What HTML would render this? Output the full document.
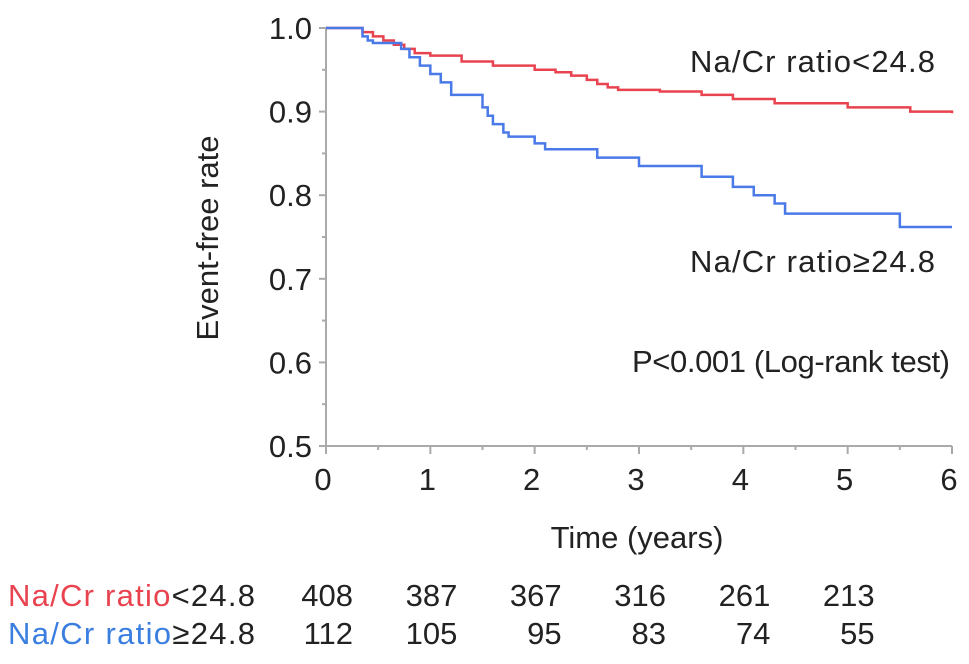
<!DOCTYPE html>
<html><head><meta charset="utf-8"><style>
body{margin:0;background:#fff;font-family:"Liberation Sans",sans-serif;}
svg text{font-family:"Liberation Sans",sans-serif;}
</style></head><body>
<svg id="chart" width="969" height="659" viewBox="0 0 969 659"></svg>
<script>
const xTicks=[0,1,2,3,4,5,6];
const yTicks=[0.5,0.6,0.7,0.8,0.9,1.0];
const redTimes=[0,0.35,0.45,0.55,0.65,0.75,0.85,1.0,1.3,1.6,2.0,2.2,2.35,2.5,2.6,2.7,2.8,3.2,3.6,3.9,4.3,5.0,5.6,6];
const redValues=[1,0.995,0.99,0.985,0.98,0.975,0.97,0.967,0.96,0.955,0.95,0.947,0.943,0.938,0.933,0.929,0.926,0.924,0.92,0.915,0.91,0.905,0.9,0.898];
const blueTimes=[0,0.35,0.4,0.45,0.72,0.8,0.9,1.0,1.1,1.2,1.5,1.55,1.6,1.7,1.75,2.0,2.1,2.6,3.0,3.6,3.9,4.1,4.3,4.4,5.5,6];
const blueValues=[1,0.99,0.985,0.982,0.975,0.965,0.955,0.945,0.935,0.92,0.905,0.895,0.885,0.875,0.87,0.862,0.855,0.845,0.835,0.822,0.81,0.8,0.79,0.778,0.762,0.762];
const riskTimes=[0,1,2,3,4,5];
const redRisk=[408,387,367,316,261,213];
const blueRisk=[112,105,95,83,74,55];
const X0=326,X1=952,Y0=446,Y1=28;
const FS=31;
const sx=t=>X0+(X1-X0)*t/6;
const sy=v=>Y0-(Y0-Y1)*(v-0.5)/0.5;
const svg=document.getElementById('chart');
const NS='http://www.w3.org/2000/svg';
function mk(tag,attrs,txt){const e=document.createElementNS(NS,tag);for(const k in attrs)e.setAttribute(k,attrs[k]);if(txt!==undefined)e.textContent=txt;svg.appendChild(e);return e;}
let e;
e=mk('line',{x1:X0,y1:Y1,x2:X0,y2:Y0,stroke:'#aaa','stroke-width':2});


e=mk('line',{x1:X0,y1:Y0,x2:X1,y2:Y0,stroke:'#aaa','stroke-width':2});


for(let i=0;i<=10;i++){const v=0.5+i*0.05;const maj=i%2===0;
e=mk('line',{x1:X0-(maj?7:4),y1:sy(v),x2:X0,y2:sy(v),stroke:'#aaa','stroke-width':2});

}
yTicks.forEach(v=>{e=mk('text',{x:X0-14,y:sy(v)+11,'text-anchor':'end','font-size':FS,fill:'#222'},v.toFixed(1));

});
for(let i=0;i<=12;i++){const t=i*0.5;const maj=i%2===0;
e=mk('line',{x1:sx(t),y1:Y0,x2:sx(t),y2:Y0+(maj?8:4),stroke:'#aaa','stroke-width':2});

}
xTicks.forEach(t=>{e=mk('text',{x:sx(t)-3,y:Y0+44,'text-anchor':'middle','font-size':FS,fill:'#222'},String(t));

});
e=mk('text',{x:637,y:548,'text-anchor':'middle','font-size':FS,fill:'#222'},'Time (years)');


e=mk('text',{x:0,y:0,'text-anchor':'middle','font-size':FS,fill:'#222',transform:'translate(218,238) rotate(-90)'},'Event-free rate');


function stepPath(ts,vs){let d='M'+sx(ts[0])+','+sy(vs[0]);for(let i=1;i<ts.length;i++){d+=' H'+sx(ts[i])+' V'+sy(vs[i]);}return d;}
e=mk('path',{d:stepPath(redTimes,redValues),fill:'none',stroke:'#e8434f','stroke-width':2.5});


e=mk('path',{d:stepPath(blueTimes,blueValues),fill:'none',stroke:'#4a7ae8','stroke-width':2.5});


e=mk('text',{x:935,y:72,'text-anchor':'end','font-size':FS,fill:'#222',textLength:245},'Na/Cr ratio<24.8');


e=mk('text',{x:935,y:272,'text-anchor':'end','font-size':FS,fill:'#222',textLength:245},'Na/Cr ratio≥24.8');


e=mk('text',{x:950,y:372,'text-anchor':'end','font-size':FS,fill:'#222',textLength:318},'P<0.001 (Log-rank test)');


e=mk('text',{x:8,y:606,'font-size':FS,fill:'#222',textLength:247});


e.innerHTML='<tspan fill="#e8434f">Na/Cr ratio</tspan>&lt;24.8';
e=mk('text',{x:8,y:644,'font-size':FS,fill:'#222',textLength:247});


e.innerHTML='<tspan fill="#3a7ee0">Na/Cr ratio</tspan>≥24.8';
riskTimes.forEach((t,i)=>{
e=mk('text',{x:sx(t)+27,y:606,'text-anchor':'end','font-size':FS,fill:'#222'},String(redRisk[i]));


e=mk('text',{x:sx(t)+27,y:644,'text-anchor':'end','font-size':FS,fill:'#222'},String(blueRisk[i]));

});
</script>
</body></html>
